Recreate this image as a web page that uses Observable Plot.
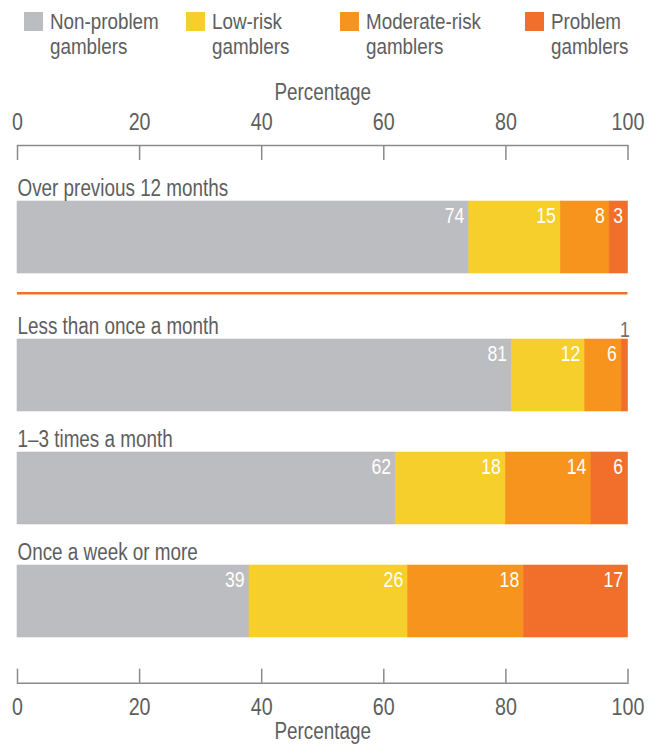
<!DOCTYPE html>
<html>
<head>
<meta charset="utf-8">
<script src="https://cdn.jsdelivr.net/npm/d3@7"></script>
<script src="https://cdn.jsdelivr.net/npm/@observablehq/plot@0.6"></script>
<style>
  body { margin: 0; background: #fff; }
  #chart { width: 658px; font-family: "Liberation Sans", Arial, sans-serif; color: #5d5e60; }
  #legend { display: grid; grid-template-columns: 162px 154px 185px auto; padding-left: 24px; height: 70px; box-sizing: border-box; }
  .item { position: relative; padding-left: 26px; font-size: 22px; line-height: 24.7px; padding-top: 10.1px; white-space: nowrap; }
  .item .txt { transform: scaleX(0.855); transform-origin: 0 0; }
  .sw { position: absolute; left: 0; top: 12px; width: 19px; height: 19px; }
</style>
</head>
<body>
<div id="chart"><div id="legend"></div></div>
<script>
// ---- data ----
const groups = ["Non-problem gamblers", "Low-risk gamblers", "Moderate-risk gamblers", "Problem gamblers"];
const colors = ["#BCBDC0", "#F6CF2C", "#F7941E", "#F16F2A"];
const rows = ["Over previous 12 months", "Less than once a month", "1–3 times a month", "Once a week or more"];
// bar lengths (percent)
const nonProblem   = [74, 81, 62, 38];
const lowRisk      = [15, 12, 18, 26];
const moderateRisk = [8, 6, 14, 19];
const problem      = [3, 1, 6, 17];
// printed value labels
const nonProblemLabels   = [74, 81, 62, 39];
const lowRiskLabels      = [15, 12, 18, 26];
const moderateRiskLabels = [8, 6, 14, 18];
const problemLabels      = [3, 1, 6, 17];
const xTicks = [0, 20, 40, 60, 80, 100];
const axisTitle = "Percentage";

const shares = [nonProblem, lowRisk, moderateRisk, problem];
const labels = [nonProblemLabels, lowRiskLabels, moderateRiskLabels, problemLabels];

const textColor = "#5d5e60";
const axisColor = "#8a8a8a";
const sepColor = "#F16F2A";
const narrow = 0.82; // horizontal compression to imitate a condensed face

// ---- legend ----
const legend = document.getElementById("legend");
groups.forEach((g, i) => {
  const words = g.split(" ");
  const item = document.createElement("div");
  item.className = "item";
  const sw = document.createElement("span");
  sw.className = "sw";
  sw.style.background = colors[i];
  item.appendChild(sw);
  const t = document.createElement("div");
  t.className = "txt";
  t.innerHTML = words.slice(0, -1).join(" ") + "<br>" + words[words.length - 1];
  item.appendChild(t);
  legend.appendChild(item);
});

// ---- table ----
const data = [];
groups.forEach((g, gi) => rows.forEach((r, ri) => data.push({group: g, row: r, share: shares[gi][ri], label: labels[gi][ri]})));

const blocks = [
  {rows: rows.slice(0, 1), dy: -25},
  {rows: rows.slice(1), dy: 0}
];

const marks = [
  Plot.frame({anchor: "top", stroke: axisColor, strokeWidth: 1.5}),
  Plot.frame({anchor: "bottom", stroke: axisColor, strokeWidth: 1.5}),
  Plot.axisX({anchor: "top", ticks: xTicks, tickSize: -14, tickPadding: 30, stroke: axisColor, strokeWidth: 1.5, fill: textColor, fontSize: 24, label: null}),
  Plot.axisX({anchor: "bottom", ticks: xTicks, tickSize: -14, tickPadding: 29, stroke: axisColor, strokeWidth: 1.5, fill: textColor, fontSize: 24, label: null}),
  Plot.axisX({anchor: "top", ticks: [], tickSize: 0, label: axisTitle, labelAnchor: "center", labelOffset: 62, labelArrow: "none", fill: textColor, fontSize: 23}),
  Plot.axisX({anchor: "bottom", ticks: [], tickSize: 0, label: axisTitle, labelAnchor: "center", labelOffset: 56, labelArrow: "none", fill: textColor, fontSize: 23}),
  Plot.ruleY([rows[0]], {y: d => d, stroke: sepColor, strokeWidth: 2.5, dy: 30.7})
];

for (const b of blocks) {
  const bd = data.filter(d => b.rows.includes(d.row));
  marks.push(
    Plot.barX(bd, Plot.stackX({x: "share", y: "row", fill: "group", stroke: "group", strokeWidth: 0.6, dy: b.dy})),
    Plot.text(bd, Plot.stackX2({x: "share", y: "row", z: "group",
      text: d => d.share >= 2 ? String(d.label) : null,
      fill: "white", textAnchor: "end", dx: -5, lineAnchor: "bottom", dy: -14.5 + b.dy, fontSize: 21.5})),
    Plot.text(bd, Plot.stackX({x: "share", y: "row", z: "group",
      text: d => d.share < 2 ? String(d.label) : null,
      fill: "#6d6e70", textAnchor: "middle", lineAnchor: "bottom", dy: -38.3 + b.dy, fontSize: 21.5})),
    Plot.text(b.rows, {y: d => d, text: d => d, frameAnchor: "left", textAnchor: "start", lineAnchor: "bottom", dy: -42 + b.dy, fill: textColor, fontSize: 23})
  );
}

const chart = Plot.plot({
  width: 658,
  height: 675,
  marginLeft: 17,
  marginRight: 30.5,
  marginTop: 75,
  marginBottom: 62.3,
  style: {fontFamily: '"Liberation Sans", Arial, sans-serif', color: textColor, background: "#fff"},
  x: {domain: [0, 100]},
  y: {domain: rows, range: [156, 567], paddingInner: 0.363, paddingOuter: 0, axis: null},
  color: {domain: groups, range: colors},
  marks
});
document.getElementById("chart").appendChild(chart);

// condense every SVG text horizontally (glyphs stay real text)
chart.querySelectorAll("text").forEach(t => {
  const spans = t.querySelectorAll("tspan");
  const els = spans.length ? Array.from(spans) : [t];
  for (const el of els) {
    const len = el.getComputedTextLength();
    if (len > 0) {
      el.setAttribute("textLength", (len * narrow).toFixed(2));
      el.setAttribute("lengthAdjust", "spacingAndGlyphs");
    }
  }
});
</script>
</body>
</html>
